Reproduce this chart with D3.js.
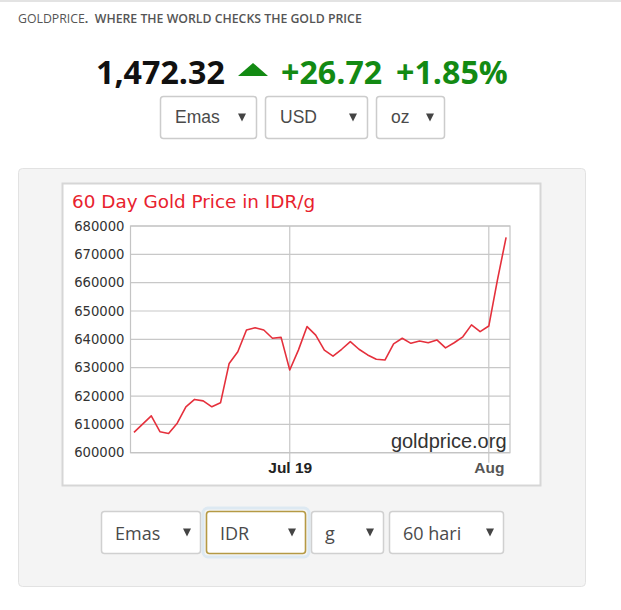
<!DOCTYPE html>
<html><head><meta charset="utf-8">
<script src="https://cdn.jsdelivr.net/npm/d3@7"></script>
<style>body{margin:0;background:#fff}svg{display:block}</style>
</head><body><svg id="c" width="621" height="610"></svg>
<script>
// ---- data ----
const chartTitle = "60 Day Gold Price in IDR/g";
const prices = [607200, 610100, 613000, 607400, 606800, 610400, 616200, 618800, 618300, 616200,
  617600, 631500, 635600, 643300, 644100, 643300, 640400, 640700, 629200, 636200,
  644500, 641500, 636200, 634100, 636500, 639200, 636500, 634500, 633000, 632700,
  638400, 640400, 638600, 639400, 638800, 639800, 637000, 638800, 640900, 645100,
  642700, 644700, 661000, 676000];
const yTicks = [600000, 610000, 620000, 630000, 640000, 650000, 660000, 670000, 680000];
const xTickIndex = [18, 41];
const xTickLabels = ["Jul 19", "Aug"];
const spotPrice = "1,472.32";
const spotChange = "+26.72";
const spotChangePct = "+1.85%";
const topSelectLabels = ["Emas", "USD", "oz"];
const bottomSelectLabels = ["Emas", "IDR", "g", "60 hari"];

// ---- drawing ----
const svg = d3.select("#c");
const green = "#138a13";

svg.append("rect").attr("x",0).attr("y",0).attr("width",621).attr("height",2).attr("fill","#e3e3e3");

const hdr = svg.append("text").attr("x",18).attr("y",23)
  .style("font-family","'Open Sans'").style("font-size","12.3px").attr("fill","#555");
hdr.append("tspan").text("GOLDPRICE");
hdr.append("tspan").style("font-weight","700").text(".");
hdr.append("tspan").style("font-weight","600").text("  WHERE THE WORLD CHECKS THE GOLD PRICE").attr("xml:space","preserve");

// price line
const pf = "'Open Sans'";
svg.append("text").attr("x",96).attr("y",84).text(spotPrice)
  .style("font-family",pf).style("font-weight","700").style("font-size","32.2px").attr("fill","#111");
svg.append("path").attr("d","M238,76 L253,63 L268,76 Z").attr("fill",green);
svg.append("text").attr("x",281).attr("y",84).text(spotChange)
  .style("font-family",pf).style("font-weight","700").style("font-size","32.2px").attr("fill",green);
svg.append("text").attr("x",396).attr("y",84).text(spotChangePct)
  .style("font-family",pf).style("font-weight","700").style("font-size","32.2px").attr("fill",green);

function drawSelect(g, x, y, w, h, label, opts) {
  const s = g.append("g");
  if (opts.glow) {
    s.append("rect").attr("x",x-3).attr("y",y-3).attr("width",w+6).attr("height",h+6).attr("rx",5)
      .attr("fill","none").attr("stroke","#dde9f2").attr("stroke-width",3);
  }
  s.append("rect").attr("x",x+0.5).attr("y",y+0.5).attr("width",w-1).attr("height",h-1).attr("rx",3)
    .attr("fill","#fff").attr("stroke",opts.stroke||"#ccc").attr("stroke-width",opts.sw||1.5);
  s.append("text").attr("x",x+opts.tx).attr("y",y+opts.ty).text(label)
    .style("font-family",opts.font).style("font-size",opts.fs).attr("fill","#4a4a4a");
  const ax = x + w - opts.ar, ay = y + h/2;
  s.append("path").attr("d",`M${ax-4},${ay-4} L${ax+4},${ay-4} L${ax},${ay+4} Z`).attr("fill","#444");
}

const topLayout = [[160,97],[265,103],[376,69]];
topSelectLabels.forEach((l,i)=>drawSelect(svg, topLayout[i][0], 96, topLayout[i][1], 43, l,
  {tx:15, ty:27, font:"'Liberation Sans'", fs:"17.5px", ar:15}));

// panel
svg.append("rect").attr("x",18.5).attr("y",168.5).attr("width",567).attr("height",418).attr("rx",4)
  .attr("fill","#f4f4f4").attr("stroke","#e2e2e2");
svg.append("rect").attr("x",62.5).attr("y",183.5).attr("width",478).attr("height",302)
  .attr("fill","#fff").attr("stroke","#d6d6d6").attr("stroke-width",2);

svg.append("text").attr("x",72).attr("y",208).text(chartTitle)
  .style("font-family","'DejaVu Sans'").style("font-size","18.4px").attr("fill","#e8222e");

const L=130.5, R=510, T=226, B=452.7;
const x = d3.scaleLinear().domain([-0.4, 43.45]).range([L, R]);
const y = d3.scaleLinear().domain([600000, 680000]).range([B, T]);

const grid = svg.append("g").attr("stroke","#c8c8c8").attr("stroke-width",1.2);
grid.selectAll("line.h").data(yTicks).join("line").attr("class","h")
  .attr("x1",L).attr("x2",R).attr("y1",d=>y(d)).attr("y2",d=>y(d));
grid.selectAll("line.v").data(xTickIndex).join("line").attr("class","v")
  .attr("x1",d=>x(d)).attr("x2",d=>x(d)).attr("y1",T).attr("y2",B+10);
svg.append("rect").attr("x",L).attr("y",T).attr("width",R-L).attr("height",B-T)
  .attr("fill","none").attr("stroke","#c4c4c4").attr("stroke-width",1.2);

const yAxis = d3.axisLeft(y).tickValues(yTicks).tickSize(0).tickPadding(6).tickFormat(d3.format("d"));
const ya = svg.append("g").attr("transform",`translate(${L},0)`).call(yAxis);
ya.select(".domain").remove();
ya.selectAll("text").style("font-family","'DejaVu Sans'").style("font-size","13.2px").attr("fill","#333");

const xAxis = d3.axisBottom(x).tickValues(xTickIndex).tickSize(0).tickPadding(0)
  .tickFormat((d,i)=>xTickLabels[i]);
const xa = svg.append("g").attr("transform",`translate(0,${B})`).call(xAxis);
xa.select(".domain").remove();
xa.selectAll("text").attr("dy",0).attr("y",20)
  .style("font-family","'Liberation Sans'").style("font-weight","700").style("font-size","15.5px")
  .attr("fill",(d,i)=>i===0?"#222":"#555");

svg.append("text").attr("x",506.5).attr("y",448).attr("text-anchor","end").text("goldprice.org")
  .style("font-family","'Liberation Sans'").style("font-size","20px").attr("fill","#333");

const line = d3.line().x((d,i)=>x(i)).y(d=>y(d));
svg.append("path").datum(prices).attr("d",line).attr("fill","none")
  .attr("stroke","#e5303c").attr("stroke-width",1.6).attr("stroke-linejoin","round");

const botLayout = [[101,100],[206,100],[311,73],[389,115]];
bottomSelectLabels.forEach((l,i)=>drawSelect(svg, botLayout[i][0], 511, botLayout[i][1], 43, l,
  {tx:14, ty:29, font:"'Open Sans'", fs:"18px", ar:14,
   stroke: i===1 ? "#b59a45" : "#d0d0d0", sw: i===1?1.6:1.5, glow: i===1}));
</script></body></html>
